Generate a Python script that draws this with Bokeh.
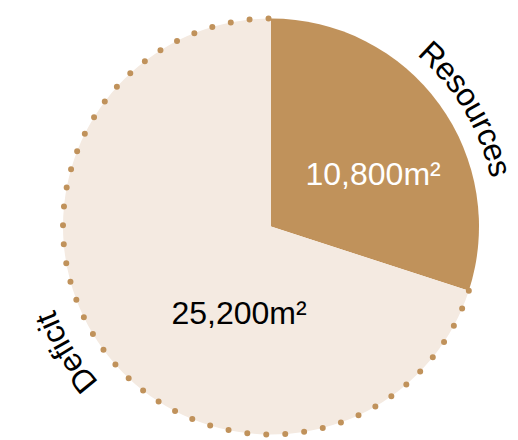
import math
import numpy as np
from bokeh.plotting import figure
from bokeh.models import Range1d
from bokeh.core.properties import value
from bokeh.embed import file_html
from bokeh.resources import INLINE

# ---- data ----
categories = ["Resources", "Deficit"]
areas = [10800, 25200]
value_labels = ["10,800m\u00b2", "25,200m\u00b2"]

# ---- styles ----
FILL = ["#C0925B", "#F4EAE1"]
DOT = "#C0925B"
VAL_COLOR = ["white", "black"]
FONT = "Liberation Sans"
FS = 32

# approximate Arial / Liberation Sans advance widths (per 1000 em)
W = {"R": 722, "e": 556, "s": 500, "o": 556, "u": 556, "r": 333, "c": 500,
     "D": 722, "f": 278, "i": 222, "t": 278}

W_IMG, H_IMG = 518, 440
p = figure(width=W_IMG, height=H_IMG, output_backend="svg", toolbar_location=None,
           x_range=Range1d(0, W_IMG), y_range=Range1d(0, H_IMG), min_border=0)
p.axis.visible = False
p.grid.visible = False
p.outline_line_color = None
p.background_fill_color = None
p.border_fill_color = None

cx, cy, R = 270.5, H_IMG - 226, 208

total = float(sum(areas))
fr = np.array(areas) / total
ends = math.pi / 2 - 2 * math.pi * np.cumsum(fr)
starts = np.concatenate([[math.pi / 2], ends[:-1]])

# wedges (clockwise from top)
for i in range(len(areas)):
    p.wedge(x=cx, y=cy, radius=R, start_angle=starts[i], end_angle=ends[i],
            direction="clock", fill_color=FILL[i], line_color=None)

# dotted border on the deficit arc
p.arc(x=cx, y=cy, radius=R, start_angle=starts[1], end_angle=ends[1],
      direction="clock", line_color=DOT, line_width=6, line_dash="0 19",
      line_cap="round")

# value labels (polar anchor, baseline)
val_pos = [(115.0, 27.4), (92.7, 249.8)]
for i in range(len(areas)):
    rr, aa = val_pos[i]
    a = math.radians(aa)
    p.text(x=[cx + rr * math.cos(a)], y=[cy + rr * math.sin(a)], text=[value_labels[i]],
           text_align="center", text_baseline="alphabetic",
           text_font=value(FONT), text_font_size=f"{FS}px", text_color=VAL_COLOR[i])

# curved category labels along the outside of the pie
cat_pos = [(236.0, 31.0), (243.0, 211.5)]
for i, name in enumerate(categories):
    rb, ac = cat_pos[i]
    ac = math.radians(ac)
    widths = [W[ch] * FS / 1000.0 for ch in name]
    tot = sum(widths)
    xs, ys, angs = [], [], []
    cum = 0.0
    for ch, w in zip(name, widths):
        mid = cum + w / 2
        th = ac + (tot / 2 - mid) / rb
        xs.append(cx + rb * math.cos(th))
        ys.append(cy + rb * math.sin(th))
        angs.append(th - math.pi / 2)
        cum += w
    p.text(x=xs, y=ys, text=list(name), angle=angs, text_align="center",
           text_baseline="alphabetic", text_font=value(FONT),
           text_font_size=f"{FS}px", text_color="black")

open("out.html", "w").write(file_html(p, INLINE))
